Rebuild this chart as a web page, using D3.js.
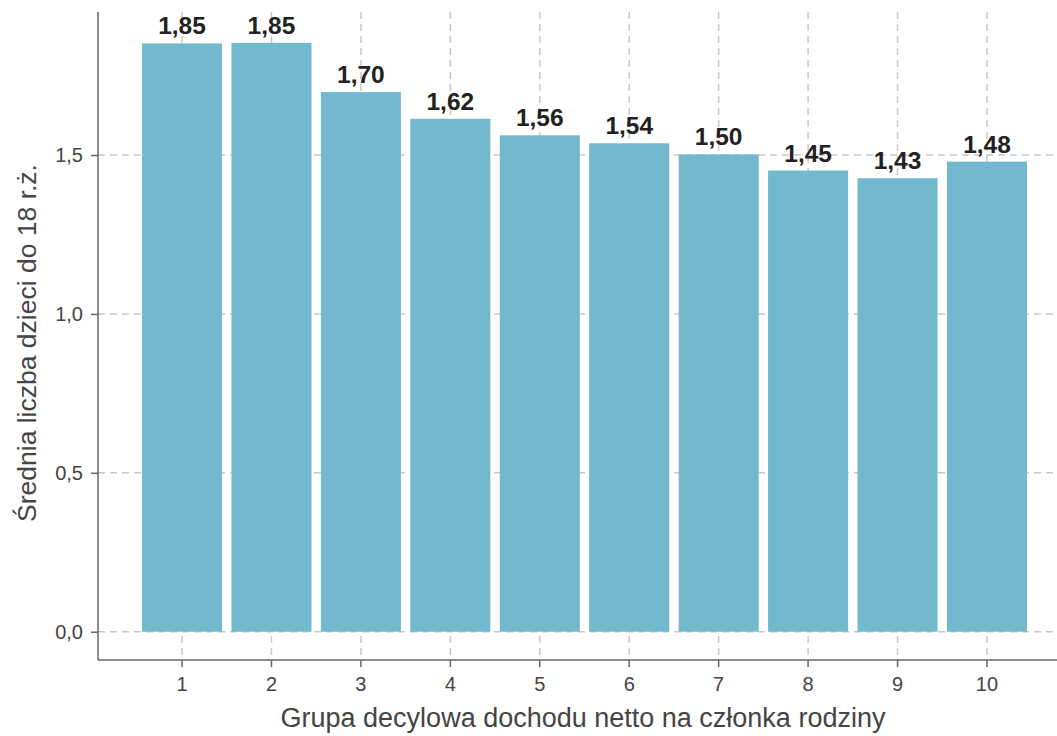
<!DOCTYPE html>
<html>
<head>
<meta charset="utf-8">
<script src="https://cdn.jsdelivr.net/npm/d3@7"></script>
<style>
  body { margin: 0; background: #fff; }
  svg { display: block; font-family: "Liberation Sans", Arial, sans-serif; }
</style>
</head>
<body>
<svg id="chart" width="1057" height="736"></svg>
<script>
// deciles and mean number of children under 18
const deciles = ["1", "2", "3", "4", "5", "6", "7", "8", "9", "10"];
const meanKids = [1.851, 1.853, 1.698, 1.614, 1.562, 1.537, 1.502, 1.451, 1.427, 1.479];
const labels = ["1,85", "1,85", "1,70", "1,62", "1,56", "1,54", "1,50", "1,45", "1,43", "1,48"];
const yTicks = [0, 0.5, 1.0, 1.5];
const xTitle = "Grupa decylowa dochodu netto na członka rodziny";
const yTitle = "Średnia liczba dzieci do 18 r.ż.";

const svg = d3.select("#chart");
const plotLeft = 98, plotTop = 12, plotBottom = 660, plotRight = 1057;

const x = d3.scaleBand()
  .domain(deciles)
  .range([137.3, 1031.7])
  .paddingInner(0.105)
  .paddingOuter(0.0525);

const y = d3.scaleLinear()
  .domain([-0.089, 1.950])
  .range([plotBottom, plotTop]);

const fmt = d => d.toFixed(1).replace(".", ",");
const gridColor = "#c8c8c8";

// grid
const grid = svg.append("g");
grid.selectAll("line.h").data(yTicks).join("line")
  .attr("x1", plotLeft).attr("x2", plotRight)
  .attr("y1", d => y(d)).attr("y2", d => y(d))
  .attr("stroke", gridColor).attr("stroke-width", 1.5)
  .attr("stroke-dasharray", "7,5");
grid.selectAll("line.v").data(deciles).join("line")
  .attr("x1", d => x(d) + x.bandwidth() / 2).attr("x2", d => x(d) + x.bandwidth() / 2)
  .attr("y1", plotTop).attr("y2", plotBottom)
  .attr("stroke", gridColor).attr("stroke-width", 1.5)
  .attr("stroke-dasharray", "7,5");

// bars
svg.append("g").selectAll("rect").data(meanKids).join("rect")
  .attr("x", (d, i) => x(deciles[i]))
  .attr("width", x.bandwidth())
  .attr("y", d => y(d))
  .attr("height", d => y(0) - y(d))
  .attr("fill", "#72b8cf");

// value labels
svg.append("g").selectAll("text").data(meanKids).join("text")
  .attr("x", (d, i) => x(deciles[i]) + x.bandwidth() / 2)
  .attr("y", d => y(d) - 9)
  .attr("text-anchor", "middle")
  .attr("font-size", 24.5)
  .attr("font-weight", "bold")
  .attr("fill", "#222")
  .text((d, i) => labels[i]);

// axes
const axisColor = "#666";
const yAxis = svg.append("g")
  .attr("transform", `translate(${plotLeft},0)`)
  .call(d3.axisLeft(y).tickValues(yTicks).tickFormat(fmt).tickSize(7).tickPadding(8));
const xAxis = svg.append("g")
  .attr("transform", `translate(0,${plotBottom})`)
  .call(d3.axisBottom(x).tickSize(7).tickPadding(10));

[yAxis, xAxis].forEach(g => {
  g.select(".domain").remove();
  g.selectAll(".tick line").attr("stroke", axisColor).attr("stroke-width", 1.5);
  g.selectAll(".tick text").attr("fill", "#444").attr("font-size", 20)
    .attr("font-family", "'Liberation Sans', Arial, sans-serif");
});

svg.append("line")
  .attr("x1", plotLeft).attr("x2", plotLeft).attr("y1", plotTop).attr("y2", plotBottom)
  .attr("stroke", axisColor).attr("stroke-width", 1.5);
svg.append("line")
  .attr("x1", plotLeft).attr("x2", plotRight).attr("y1", plotBottom).attr("y2", plotBottom)
  .attr("stroke", axisColor).attr("stroke-width", 1.5);

// titles
svg.append("text")
  .attr("x", 583).attr("y", 727)
  .attr("text-anchor", "middle")
  .attr("font-size", 27)
  .attr("fill", "#444")
  .text(xTitle);
svg.append("text")
  .attr("transform", "translate(36,343) rotate(-90)")
  .attr("text-anchor", "middle")
  .attr("font-size", 26.5)
  .attr("fill", "#444")
  .text(yTitle);
</script>
</body>
</html>
